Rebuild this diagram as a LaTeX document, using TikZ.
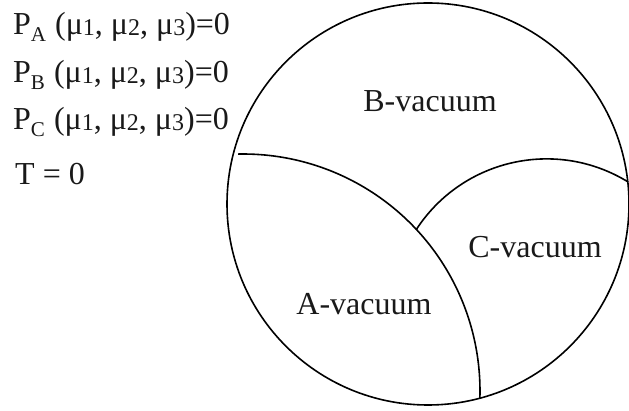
\documentclass[tikz,border=0pt]{standalone}
\usepackage{fontspec}
\setmainfont{Liberation Serif}
\newcommand{\capsub}[1]{\raisebox{-7pt}{\fontsize{21}{21}\selectfont #1}\hspace{1pt}}
\newcommand{\numsub}[1]{\raisebox{-0.5pt}{\fontsize{24}{24}\selectfont #1}}
\begin{document}
\begin{tikzpicture}[x=1pt,y=-1pt,
  lbl/.style={inner sep=0pt,font=\fontsize{32}{32}\selectfont,text=black!90},
  bnd/.style={line width=1.6pt}]
\useasboundingbox (0,0) rectangle (629,411);
% outer circle
\draw[bnd] (428,204) circle[radius=201];
% A/B boundary
\draw[bnd] (243,391) ++(-91.2:237) arc[start angle=-91.2,end angle=1.7,radius=237];
% C boundary
\draw[bnd] (546.6,314.4) ++(-147.1:155.5) arc[start angle=-147.1,end angle=-58.4,radius=155.5];
% labels
\node[lbl,anchor=base] (b) at (430,112) {B-vacuum};
\node[lbl,anchor=base] (c) at (535,258) {C-vacuum};
\node[lbl,anchor=base] (a) at (364,315) {A-vacuum};
\node[lbl,anchor=base west] (pa) at (13,35) {P\capsub{A} (μ\numsub{1}, μ\numsub{2}, μ\numsub{3})=0};
\node[lbl,anchor=base west] (pb) at (13,83) {P\capsub{B} (μ\numsub{1}, μ\numsub{2}, μ\numsub{3})=0};
\node[lbl,anchor=base west] (pc) at (13,130) {P\capsub{C} (μ\numsub{1}, μ\numsub{2}, μ\numsub{3})=0};
\node[lbl,anchor=base west] (t) at (15,185) {T = 0};
\end{tikzpicture}
\end{document}
